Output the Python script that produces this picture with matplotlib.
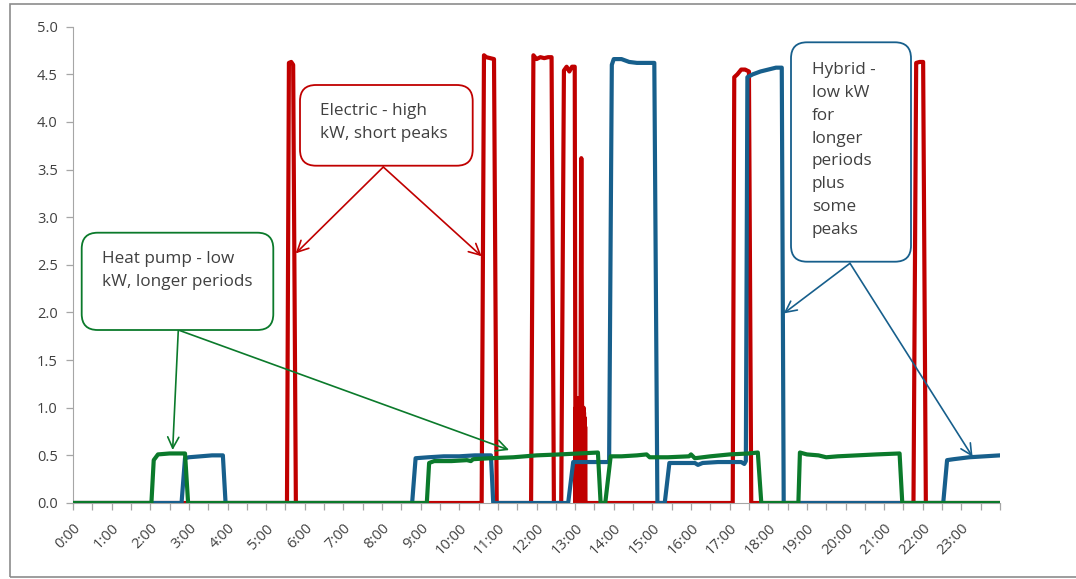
import matplotlib
matplotlib.use("Agg")
import matplotlib.pyplot as plt
from matplotlib.patches import FancyBboxPatch, Rectangle

# time of day in hours, power in kW
electric_t = [0, 5.54, 5.59, 5.65, 5.70, 5.77,
              10.58, 10.64, 10.70, 10.80, 10.90, 10.97,
              11.86, 11.92, 12.00, 12.10, 12.20, 12.30, 12.39, 12.45,
              12.64, 12.71, 12.78, 12.85, 12.92, 12.99, 13.01,
              13.015, 13.02, 13.025, 13.03, 13.035, 13.04, 13.045, 13.05, 13.055, 13.06,
              13.065, 13.07, 13.075, 13.08, 13.085, 13.09, 13.095, 13.10, 13.105, 13.11,
              13.115, 13.12, 13.125, 13.13, 13.14, 13.16, 13.18, 13.185, 13.19, 13.195,
              13.20, 13.205, 13.21, 13.215, 13.22, 13.225, 13.23, 13.235, 13.24, 13.245,
              13.25, 13.255, 13.26, 13.265, 13.27, 13.28,
              17.08, 17.12, 17.20, 17.30, 17.40, 17.50, 17.56,
              21.76, 21.83, 21.92, 22.01, 22.08, 24]
electric_kw = [0, 0, 4.62, 4.63, 4.60, 0,
               0, 4.70, 4.68, 4.67, 4.66, 0,
               0, 4.70, 4.66, 4.68, 4.67, 4.68, 4.68, 0,
               0, 4.54, 4.58, 4.53, 4.58, 4.58, 0,
               1.0, 0, 0.95, 0, 1.05, 0, 1.0, 0, 0.9, 0,
               1.0, 0, 1.1, 0, 0.95, 0, 1.0, 0, 1.05, 0,
               0.9, 0, 1.0, 0, 1.2, 3.62, 1.0, 0, 0.95, 0,
               1.0, 0, 0.9, 0, 1.0, 0, 0.95, 0, 0.9, 0,
               0.85, 0, 0.8, 0, 0, 0,
               0, 4.47, 4.50, 4.55, 4.55, 4.53, 0,
               0, 4.62, 4.63, 4.63, 0, 0]

hybrid_t = [0, 2.81, 2.90, 3.00, 3.30, 3.60, 3.88, 3.95,
            8.78, 8.87, 9.20, 9.60, 10.00, 10.40, 10.82, 10.88,
            12.82, 12.95, 13.30, 13.88, 13.95, 14.00, 14.20, 14.40, 14.60, 14.90, 15.05, 15.13,
            15.32, 15.44, 15.80, 16.10, 16.18, 16.30, 16.70, 17.00, 17.30, 17.38, 17.42,
            17.46, 17.60, 17.80, 18.00, 18.20, 18.35, 18.40,
            22.53, 22.63, 22.80, 23.20, 23.60, 24.00]
hybrid_kw = [0, 0, 0.47, 0.48, 0.49, 0.50, 0.50, 0,
             0, 0.47, 0.48, 0.49, 0.49, 0.50, 0.50, 0,
             0, 0.43, 0.43, 0.43, 4.60, 4.66, 4.66, 4.63, 4.62, 4.62, 4.62, 0,
             0, 0.42, 0.42, 0.42, 0.40, 0.42, 0.43, 0.43, 0.43, 0.41, 0.44,
             4.47, 4.50, 4.53, 4.55, 4.57, 4.57, 0,
             0, 0.45, 0.46, 0.48, 0.49, 0.50]

heatpump_t = [0, 2.03, 2.09, 2.20, 2.50, 2.90, 2.98,
              9.16, 9.22, 9.35, 9.80, 10.20, 10.30, 10.36, 10.80, 11.40, 12.00, 12.60, 13.10, 13.59, 13.66,
              13.78, 13.92, 14.20, 14.60, 14.85, 14.93, 15.40, 15.95, 16.00, 16.10, 16.50, 17.00, 17.50, 17.73, 17.82,
              18.78, 18.82, 19.00, 19.30, 19.50, 19.80, 20.30, 20.80, 21.40, 21.47, 24]
heatpump_kw = [0, 0, 0.45, 0.51, 0.52, 0.52, 0,
               0, 0.42, 0.44, 0.44, 0.45, 0.44, 0.46, 0.47, 0.48, 0.50, 0.51, 0.52, 0.53, 0,
               0, 0.49, 0.49, 0.50, 0.51, 0.48, 0.48, 0.49, 0.51, 0.47, 0.49, 0.51, 0.52, 0.53, 0,
               0, 0.53, 0.51, 0.50, 0.48, 0.49, 0.50, 0.51, 0.52, 0, 0]

hour_labels = [f"{h}:00" for h in range(24)]

RED = "#C00000"
BLUE = "#175F8C"
GREEN = "#0B7A2B"
TXT = "#404040"

plt.rcParams["font.family"] = ["Open Sans", "DejaVu Sans"]
plt.rcParams["path.simplify"] = False  # keep the dense on/off burst near 13:10

W, H = 1076, 579
fig = plt.figure(figsize=(W / 100, H / 100), dpi=100)
ax = fig.add_axes([73 / W, 1 - 503 / H, (1000 - 73) / W, (503 - 26.7) / H])


def px(x, y):
    # figure pixel (from top-left) -> inches, for the callouts
    return (x / 100, (H - y) / 100)


ax.plot(electric_t, electric_kw, color=RED, lw=3.0, zorder=2, solid_joinstyle="round")
ax.plot(hybrid_t, hybrid_kw, color=BLUE, lw=3.0, zorder=3, solid_joinstyle="round")
ax.plot(heatpump_t, heatpump_kw, color=GREEN, lw=3.0, zorder=4, solid_joinstyle="round")

ax.set_xlim(0, 24)
ax.set_ylim(0, 5)
ax.set_yticks([i * 0.5 for i in range(11)])
ax.set_yticklabels([f"{i * 0.5:.1f}" for i in range(11)])
ax.set_xticks(range(24))
ax.set_xticklabels(hour_labels, rotation=45, ha="right", rotation_mode="anchor")
ax.set_xticks([i + 0.5 for i in range(24)] + [24], minor=True)
for s in ["top", "right"]:
    ax.spines[s].set_visible(False)
for s in ["left", "bottom"]:
    ax.spines[s].set_color("#A6A6A6")
ax.tick_params(which="both", color="#A6A6A6", length=5, width=0.9)
ax.tick_params(axis="both", labelsize=10.5, labelcolor=TXT)
ax.tick_params(axis="y", pad=6)
ax.tick_params(axis="x", pad=8)

# outer chart border
fig.add_artist(Rectangle(px(10, 577), (W + 10) / 100, (577 - 4) / 100,
                         transform=fig.dpi_scale_trans, fill=False,
                         edgecolor="#8C8C8C", lw=1.2))

callouts = [
    ("Electric - high\nkW, short peaks", RED, (300, 85, 472.7, 165.7), (320, 103),
     (383.3, 167), [(5.765, 2.62), (10.58, 2.59)]),
    ("Heat pump - low\nkW, longer periods", GREEN, (81.7, 232.7, 273.3, 330), (102, 251),
     (178.3, 330), [(2.58, 0.556), (11.29, 0.556)]),
    ("Hybrid -\nlow kW\nfor\nlonger\nperiods\nplus\nsome\npeaks", BLUE, (791, 42.3, 911, 261.7), (812, 62),
     (850, 263.3), [(18.40, 1.99), (23.29, 0.485)]),
]

for text, col, (x0, y0, x1, y1), (tx, ty), origin, tips in callouts:
    box = FancyBboxPatch(px(x0, y1), (x1 - x0) / 100, (y1 - y0) / 100,
                         boxstyle="round,pad=0,rounding_size=0.16",
                         transform=fig.dpi_scale_trans, facecolor="white",
                         edgecolor=col, lw=1.3, zorder=5)
    fig.add_artist(box)
    fig.text(*px(tx, ty), text, transform=fig.dpi_scale_trans, fontsize=12.3,
             color=TXT, va="top", ha="left", linespacing=1.57, zorder=6)
    for tip in tips:
        ax.annotate("", xy=tip, xycoords="data", xytext=px(*origin),
                    textcoords=fig.dpi_scale_trans,
                    arrowprops=dict(arrowstyle="->", color=col, lw=1.2,
                                    shrinkA=0, shrinkB=0, mutation_scale=20),
                    zorder=5, annotation_clip=False)

fig.savefig("out.png", dpi=100)
